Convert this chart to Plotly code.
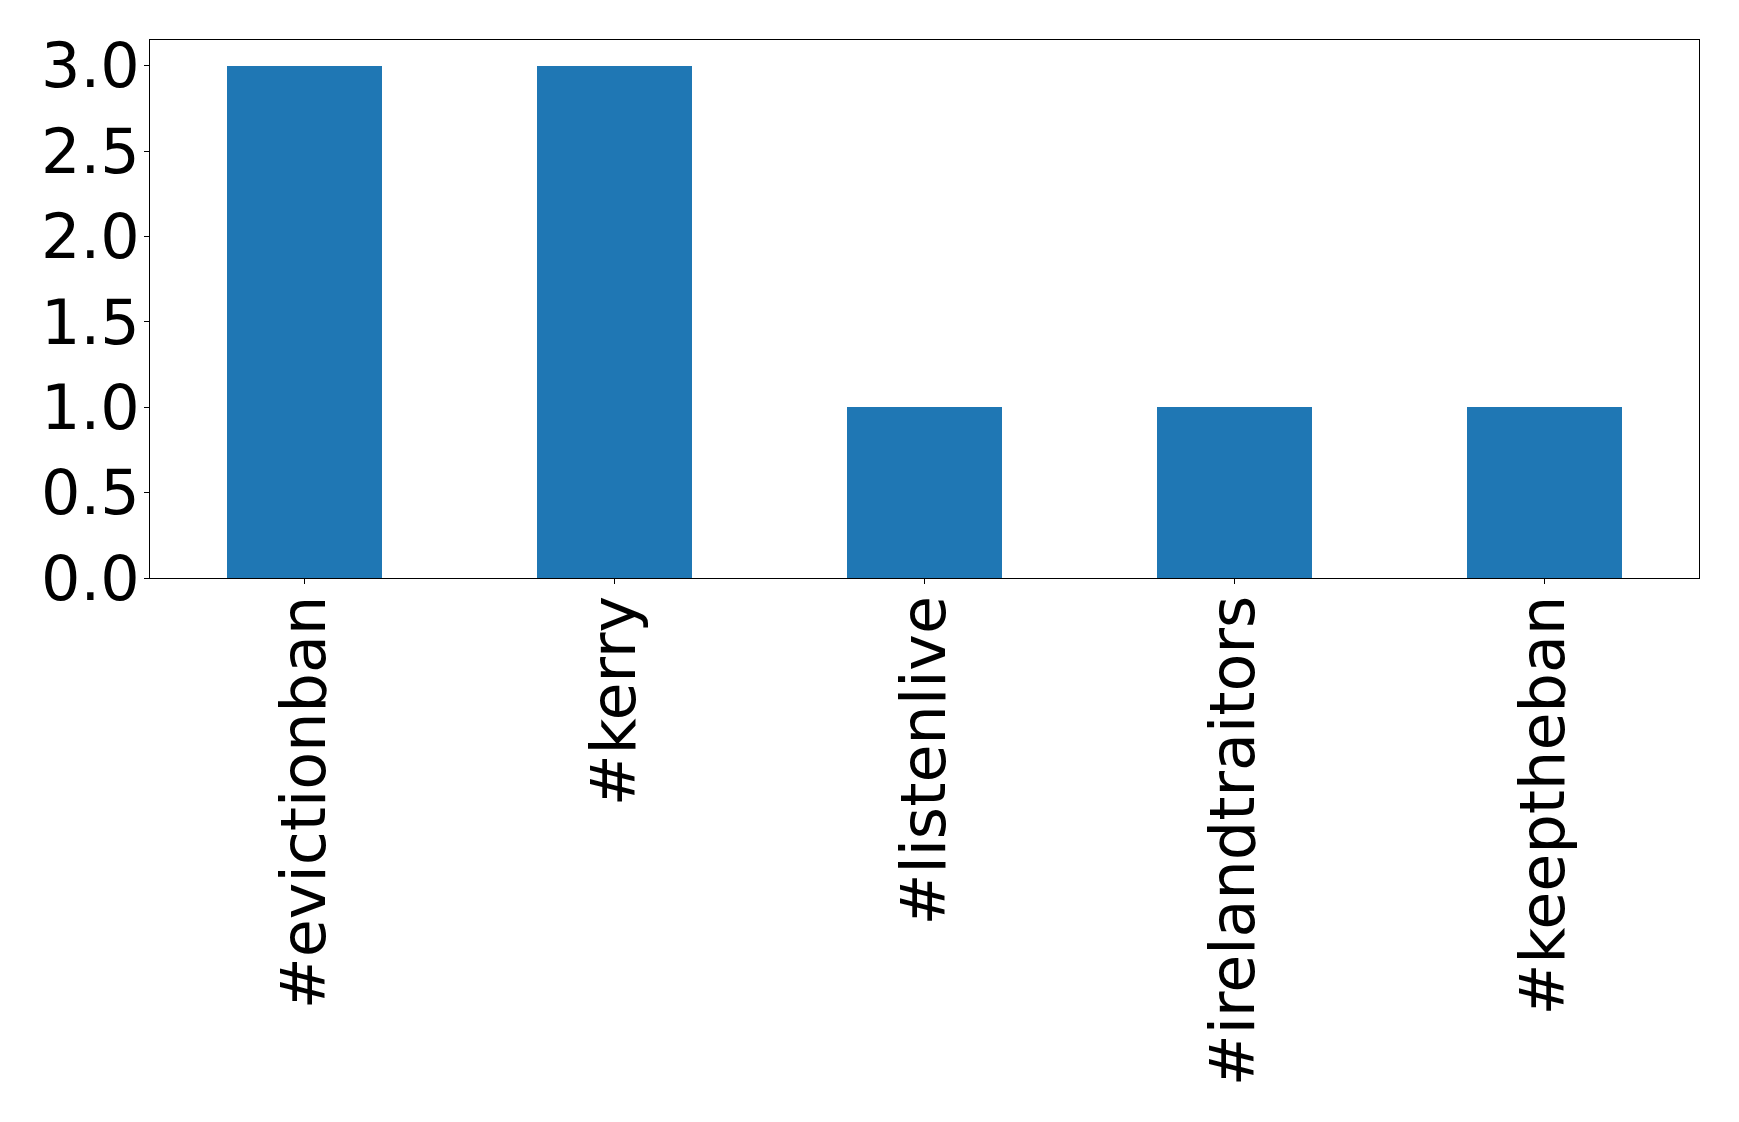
import plotly.graph_objects as go

categories = ["#evictionban", "#kerry", "#listenlive", "#irelandtraitors", "#keeptheban"]
counts = [3, 3, 1, 1, 1]
y_ticks = [0.0, 0.5, 1.0, 1.5, 2.0, 2.5, 3.0]
y_tick_labels = ["0.0", "0.5", "1.0", "1.5", "2.0", "2.5", "3.0"]

fig = go.Figure(go.Bar(
    x=list(range(len(categories))), y=counts, width=0.5,
    marker=dict(color="#1f77b4", line=dict(width=0)),
))

font = dict(family="DejaVu Sans", size=62, color="black")
fig.update_layout(
    width=1731, height=1114,
    margin=dict(l=142, r=40, t=32, b=544),
    paper_bgcolor="white", plot_bgcolor="white",
    showlegend=False, bargap=0,
    font=font,
)
fig.update_xaxes(
    range=[-0.5, len(categories) - 0.5], automargin=False,
    tickmode="array", tickvals=list(range(len(categories))), ticktext=categories,
    tickangle=-90, ticks="outside", ticklen=5, tickwidth=1, tickcolor="black",
    ticklabelstandoff=-13,
    showline=True, linecolor="black", linewidth=1, mirror=True,
    showgrid=False, zeroline=False, tickfont=font,
)
fig.update_yaxes(
    range=[0, 3.15], automargin=False,
    tickmode="array", tickvals=y_ticks, ticktext=y_tick_labels,
    ticks="outside", ticklen=5, tickwidth=1, tickcolor="black",
    ticklabelstandoff=-8,
    showline=True, linecolor="black", linewidth=1, mirror=True,
    showgrid=False, zeroline=False, tickfont=font,
)
fig.write_html("out.html")
